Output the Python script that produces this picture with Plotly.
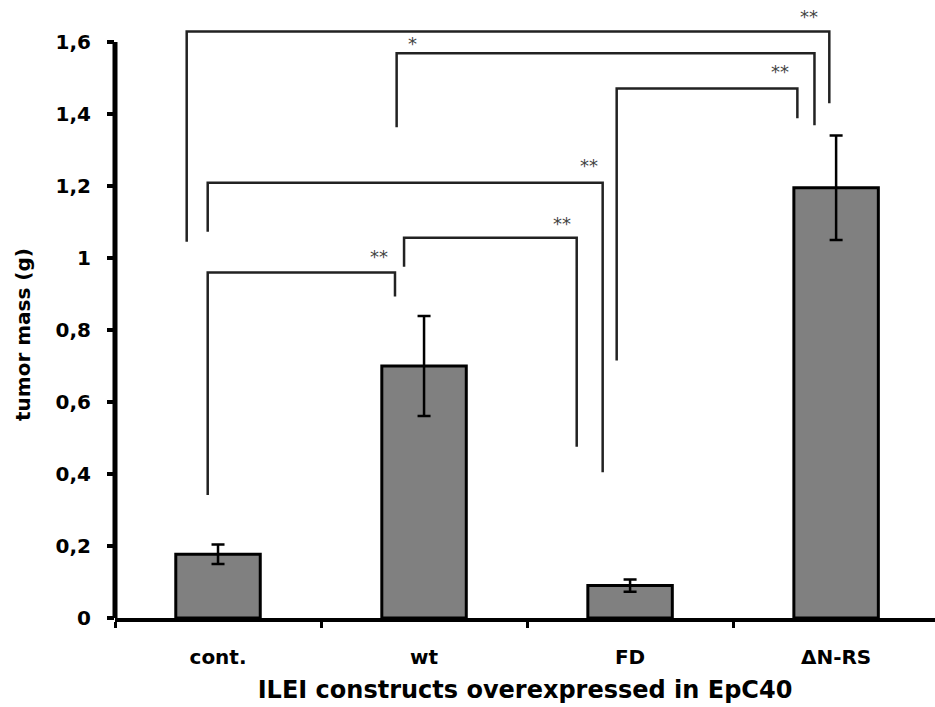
import plotly.graph_objects as go

categories = ["cont.", "wt", "FD", "ΔN-RS"]
tumor_mass = [0.177, 0.70, 0.09, 1.195]
error_sd = [0.027, 0.139, 0.017, 0.145]

y_ticks = [0, 0.2, 0.4, 0.6, 0.8, 1.0, 1.2, 1.4, 1.6]
y_tick_labels = ["0", "0,2", "0,4", "0,6", "0,8", "1", "1,2", "1,4", "1,6"]

# significance brackets: (x_left, x_right, y_top, y_left_bottom, y_right_bottom, label, label_x, label_y)
brackets = [
    (-0.152, 2.967, 1.629, 1.045, 1.430, "**", 2.869, 1.672),
    (0.867, 2.895, 1.569, 1.363, 1.369, "*", 0.942, 1.597),
    (1.935, 2.812, 1.471, 0.715, 1.388, "**", 2.728, 1.518),
    (-0.050, 1.867, 1.209, 1.073, 0.405, "**", 1.801, 1.256),
    (0.903, 1.741, 1.056, 0.976, 0.476, "**", 1.668, 1.096),
    (-0.050, 0.859, 0.960, 0.342, 0.893, "**", 0.782, 1.003),
]

FONT = "DejaVu Sans"

fig = go.Figure()
fig.add_trace(go.Bar(
    x=categories, y=tumor_mass, width=0.41,
    marker=dict(color="#808080", line=dict(color="black", width=3)),
    error_y=dict(type="data", array=error_sd, visible=True, color="black",
                 thickness=2.5, width=6.5),
))

shapes = []
annotations = []
for xl, xr, yt, ylb, yrb, lab, lx, ly in brackets:
    shapes.append(dict(type="path", xref="x", yref="y",
                       path=f"M {xl},{ylb} L {xl},{yt} L {xr},{yt} L {xr},{yrb}",
                       line=dict(color="#222222", width=2.5)))
    annotations.append(dict(x=lx, y=ly, xref="x", yref="y", text=lab, showarrow=False,
                            font=dict(family=FONT, size=18, color="#444444")))

# y axis line only up to 1.6
shapes.append(dict(type="line", xref="paper", yref="y", x0=0, x1=0, y0=0, y1=1.6,
                   line=dict(color="black", width=5)))

# y title position (pixels) converted to paper coordinates
annotations.append(dict(x=(23 - 115) / 820, y=(618 - 335) / 618, xref="paper", yref="paper",
                        text="tumor mass (g)", showarrow=False, textangle=-90,
                        xanchor="center", yanchor="middle",
                        font=dict(family=FONT, size=20, color="black", weight="bold")))

fig.update_layout(
    width=935, height=707,
    margin=dict(l=115, r=0, t=0, b=89),
    paper_bgcolor="white", plot_bgcolor="white",
    showlegend=False,
    shapes=shapes,
    annotations=annotations,
    xaxis=dict(
        type="category", range=[-0.5, 3.48], tickson="boundaries",
        ticks="outside", ticklen=6, tickwidth=3, tickcolor="black",
        showline=True, linecolor="black", linewidth=3.5,
        showgrid=False, zeroline=False,
        tickfont=dict(family=FONT, size=20, color="black", weight="bold"),
        ticklabelstandoff=18,
        title=dict(text="ILEI constructs overexpressed in EpC40",
                   font=dict(family=FONT, size=24, color="black", weight="bold"),
                   standoff=14),
    ),
    yaxis=dict(
        range=[0, 618 / 360], tickvals=y_ticks, ticktext=y_tick_labels,
        ticks="outside", ticklen=7, tickwidth=4, tickcolor="black",
        showline=False, showgrid=False, zeroline=False,
        tickfont=dict(family=FONT, size=20, color="black", weight="bold"),
        ticklabelstandoff=12,
    ),
)

fig.write_html("out.html", config={"displayModeBar": False},
               post_script="document.body.style.margin='0';document.body.style.overflow='hidden';")
